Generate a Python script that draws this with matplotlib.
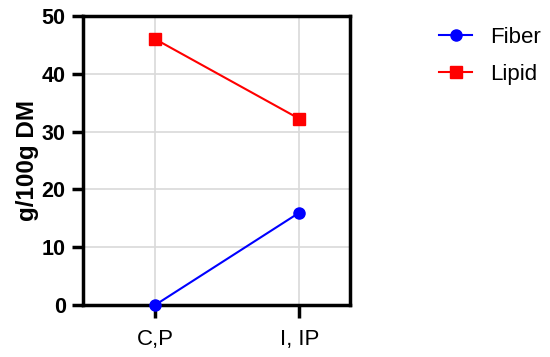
import matplotlib.pyplot as plt

categories = ["C,P", "I, IP"]
fiber = [0, 16.0]
lipid = [46.0, 32.2]

plt.rcParams['font.family'] = ['Liberation Sans', 'DejaVu Sans']

fig = plt.figure(figsize=(5.5, 3.57), dpi=100)
ax = fig.add_axes([83 / 550, 1 - 305 / 357, 267 / 550, 289 / 357])

x = range(len(categories))
ax.plot(x, fiber, color="#0000ff", marker="o", markersize=8, lw=1.5,
        label="Fiber", clip_on=False, zorder=3)
ax.plot(x, lipid, color="#ff0000", marker="s", markersize=8, lw=1.5,
        label="Lipid", clip_on=False, zorder=3)

ax.set_xlim(-0.5, 1.35)
ax.set_ylim(0, 50)
ax.set_yticks([0, 10, 20, 30, 40, 50])
ax.set_xticks(list(x))
ax.set_xticklabels(categories, fontsize=16)
ax.grid(True, color="#d9d9d9", lw=1.2)
ax.set_axisbelow(True)

for s in ax.spines.values():
    s.set_linewidth(2.5)
ax.tick_params(axis="y", length=8, width=2.5, labelsize=15.5, pad=4.5)
ax.tick_params(axis="x", length=9, width=2.5, pad=8)
for lab in ax.get_yticklabels():
    lab.set_fontweight("bold")

ax.set_ylabel("g/100g DM", fontsize=17.5, fontweight="bold", labelpad=2)

ax.legend(loc="upper left", bbox_to_anchor=(439 / 550, 1 - 27 / 357),
          bbox_transform=fig.transFigure, frameon=False, fontsize=16,
          handlelength=1.5, labelspacing=0.72, handletextpad=0.8,
          borderpad=0, borderaxespad=0)

fig.savefig("out.png", dpi=100)
